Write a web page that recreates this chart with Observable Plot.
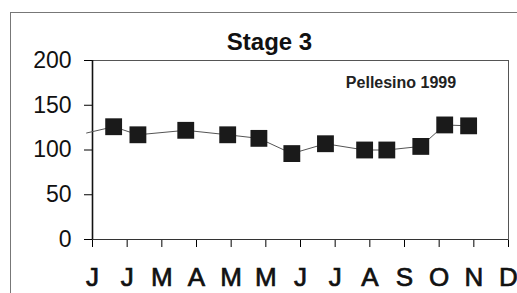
<!DOCTYPE html>
<html>
<head>
<meta charset="utf-8">
<script src="https://cdn.jsdelivr.net/npm/d3@7"></script>
<script src="https://cdn.jsdelivr.net/npm/@observablehq/plot@0.6"></script>
<style>
  body { margin: 0; background: #fff; }
  #wrap { position: relative; width: 517px; height: 293px; overflow: hidden; }
  #border { position: absolute; left: 10px; top: 12px; width: 520px; height: 300px;
            border-left: 1px solid #777; border-top: 1px solid #777; pointer-events: none; }
  svg { font-family: "Liberation Sans", Arial, sans-serif; }
</style>
</head>
<body>
<div id="wrap"><div id="border"></div></div>
<script>
const monthLabels = ["J", "J", "M", "A", "M", "M", "J", "J", "A", "S", "O", "N", "D"];
const sampleX = [-0.17, 0.61, 1.31, 2.69, 3.90, 4.80, 5.75, 6.72, 7.85, 8.49, 9.47, 10.16, 10.85];
const sampleY = [119, 126, 117, 122, 117, 113, 96, 107, 100, 100, 104, 128, 127];
const markerFrom = 1; // first entry is only the line coming in from the left
const yTicks = [0, 50, 100, 150, 200];

const rows = sampleX.map((x, i) => ({x, y: sampleY[i], marker: i >= markerFrom}));

const chart = Plot.plot({
  width: 517,
  height: 293,
  marginLeft: 92,
  marginRight: 9,
  marginTop: 60,
  marginBottom: 54,
  style: {fontFamily: "Liberation Sans, Arial, sans-serif", background: "transparent"},
  x: {domain: [0, 12], ticks: d3.range(13), tickFormat: i => monthLabels[i], tickSize: 8, tickPadding: 20, label: null},
  y: {domain: [0, 200], ticks: yTicks, tickSize: 8, tickPadding: 13, label: null},
  marks: [
    Plot.frame({stroke: "#555", strokeWidth: 1}),
    Plot.ruleX([0], {stroke: "#111", strokeWidth: 1.6}),
    Plot.ruleY([0], {stroke: "#333", strokeWidth: 1.2}),
    Plot.line(rows, {x: "x", y: "y", stroke: "#555", strokeWidth: 1}),
    Plot.dot(rows.filter(d => d.marker), {x: "x", y: "y", symbol: "square", r: 9.5, fill: "#1a1a1a", stroke: "none"}),
    Plot.text(["Stage 3"], {frameAnchor: "top-left", textAnchor: "middle", lineAnchor: "middle", dx: 177, dy: -18.5, text: d => d, fontSize: 24, fontWeight: "bold", fill: "#111"}),
    Plot.text(["Pellesino 1999"], {frameAnchor: "top-left", textAnchor: "middle", lineAnchor: "middle", dx: 308.5, dy: 22.7, text: d => d, fontSize: 16, fontWeight: "bold", fill: "#222"})
  ]
});
chart.querySelectorAll('[aria-label="x-axis tick label"], [aria-label="y-axis tick label"]').forEach(g => {
  const isX = g.getAttribute("aria-label").startsWith("x");
  g.setAttribute("font-size", isX ? 26 : 23);
  g.setAttribute("fill", "#111");
  if (isX) { g.setAttribute("stroke", "#111"); g.setAttribute("stroke-width", 0.7); }
  g.querySelectorAll("text").forEach(t => t.setAttribute("font-size", isX ? 26 : 23));
});
chart.style.position = "absolute";
chart.style.left = "0";
chart.style.top = "0";
document.getElementById("wrap").appendChild(chart);
</script>
</body>
</html>
